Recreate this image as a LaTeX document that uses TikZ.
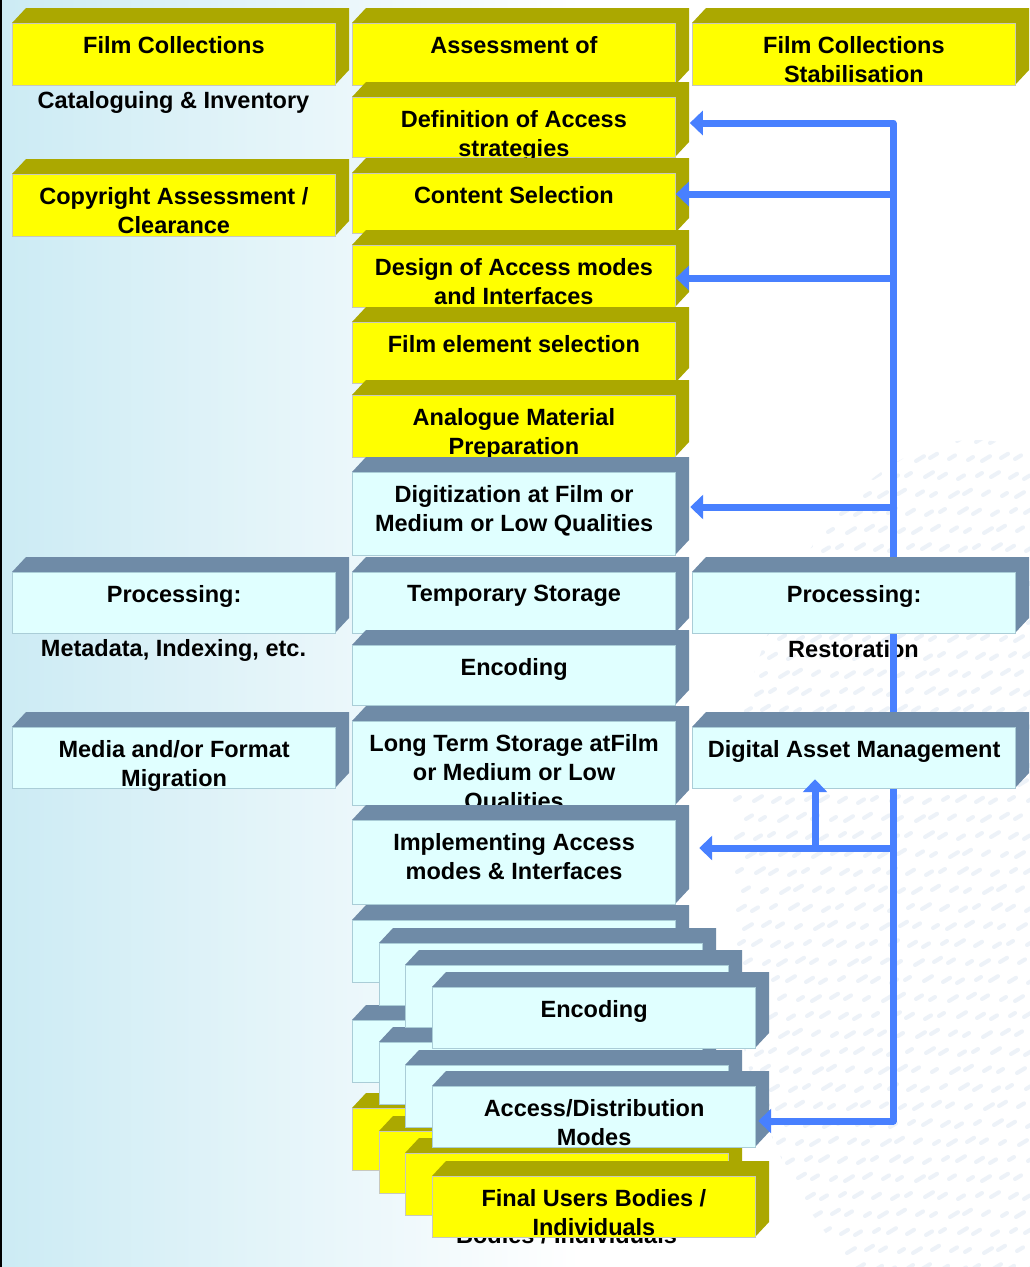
\documentclass[tikz,border=0pt]{standalone}
\usepackage{fontspec}
\setmainfont{Liberation Sans}
\usetikzlibrary{arrows.meta,calc}
\definecolor{yfront}{RGB}{255,255,0}
\definecolor{yside}{RGB}{171,168,0}
\definecolor{cfront}{RGB}{224,255,255}
\definecolor{cside}{RGB}{111,139,167}
\definecolor{bgblue}{RGB}{204,235,244}
\definecolor{blueline}{RGB}{72,128,255}
\definecolor{yborder}{RGB}{200,200,190}
\definecolor{cborder}{RGB}{170,205,215}
\definecolor{wmark}{RGB}{237,242,248}
\tikzset{
  Yside/.style={fill=yside},
  Cside/.style={fill=cside},
  Yfront/.style={fill=yfront, draw=yborder, line width=0.8pt, inner sep=0pt},
  Cfront/.style={fill=cfront, draw=cborder, line width=1.2pt, inner sep=0pt},
  txt/.style={font=\fontsize{23.5}{29}\selectfont\bfseries, align=center, inner sep=0pt},
  link/.style={draw=blueline, line width=7pt, line join=round},
  arr/.style={-{Triangle[length=13pt,width=24pt]}}
}
\newcommand\cube[6]{%
  \fill[#5side] (#2,#3) -- ++(14,-15) -- ({#2+337},{#3-15}) -- ({#2+337},{#3+#4-15}) -- ({#2+323},{#3+#4}) -- ({#2+323},#3) -- cycle;
  \node[#5front, anchor=north west, minimum width=323pt, minimum height=#4pt] (#1) at (#2,#3) {};
  \node[txt, anchor=north] (#1t) at ([yshift=-13pt]#1.north) {#6};
}
\begin{document}
\begin{tikzpicture}[x=1pt,y=-1pt]
\useasboundingbox (0,0) rectangle (1029,1267);
% background
\fill[white] (0,0) rectangle (1029,1267);
\shade[left color=bgblue, right color=white] (0,0) rectangle (580,1267);
\fill[black] (0,0) rectangle (1.5,1267);
\begin{scope}
  \clip (975,880) ellipse [x radius=250, y radius=440];
  \foreach \i in {0,...,17}{
    \foreach \j in {0,...,48}{
      \pgfmathsetmacro\px{735+\i*17+mod(\j,2)*8+mod(\i*7+\j*3,5)}
      \pgfmathsetmacro\py{440+\j*18+mod(\i*5+\j,4)}
      \pgfmathsetmacro\ln{5+mod(\i*3+\j*5,4)}
      \draw[wmark, line width=4pt, line cap=round] (\px,\py) -- ++(\ln,{-0.6*\ln});
    }
  }
\end{scope}

% column 1
\cube{FC}{12}{23}{62}{Y}{Film Collections}
\node[txt, anchor=north] (lcat) at (173.5,91.6) {Cataloguing \& Inventory};
\cube{CA}{12}{174}{62}{Y}{Copyright Assessment /\\Clearance}
\cube{PM}{12}{572}{61}{C}{Processing:}
\node[txt, anchor=north] (lmeta) at (173.5,639.6) {Metadata, Indexing, etc.};
\cube{MF}{12}{727}{61}{C}{Media and/or Format\\Migration}

% column 2
\cube{AO}{352}{23}{62}{Y}{Assessment of}
\cube{DA}{352}{97}{60}{Y}{Definition of Access\\strategies}
\cube{CS}{352}{173}{60}{Y}{Content Selection}
\cube{DM}{352}{245}{62}{Y}{Design of Access modes\\and Interfaces}
\cube{FE}{352}{322}{61}{Y}{Film element selection}
\cube{AM}{352}{395}{62}{Y}{Analogue Material\\Preparation}
\cube{DG}{352}{472}{83}{C}{Digitization at Film or\\Medium or Low Qualities}
\cube{TS}{352}{572}{61}{C}{Temporary Storage}
\cube{EN}{352}{645}{60}{C}{Encoding}
\cube{LT}{352}{721}{84}{C}{Long Term Storage atFilm\\or Medium or Low\\Qualities}
\cube{IA}{352}{820}{84}{C}{Implementing Access\\modes \& Interfaces}

% stacked copies
\cube{SA}{352}{920}{62}{C}{}
\cube{SE}{352}{1020}{62}{C}{}
\cube{SI}{352}{1108}{62}{Y}{}
\cube{SB}{379}{943}{62}{C}{}
\cube{SF}{379}{1042}{62}{C}{}
\cube{SJ}{379}{1131}{62}{Y}{}
\cube{SC}{405}{965}{62}{C}{}
\cube{SG}{405}{1065}{62}{C}{}
\cube{SK}{405}{1153}{62}{Y}{}
\node[txt, anchor=north] (ghost) at (566.5,1226) {Bodies / Individuals};
\cube{D}{432}{987}{61}{C}{Encoding}
\cube{H}{432}{1086}{61}{C}{Access/Distribution\\Modes}
\cube{L}{432}{1176}{61}{Y}{Final Users Bodies /\\Individuals}

% restoration label
\node[txt, anchor=north] (lrest) at (853.5,640) {Restoration};

% connectors
\coordinate (tTop) at (893,123);
\coordinate (tBot) at (893,1121);
\coordinate (j2) at (893,194);
\coordinate (j3) at (893,278);
\coordinate (j4) at (893,507);
\coordinate (j5) at (893,848);
\coordinate (j6) at (815,848);
\coordinate (eDA) at ([xshift=14pt]DA.east);
\coordinate (eDG) at ([xshift=14pt]DG.east);
\coordinate (eIA) at ([xshift=23pt]IA.east);
\coordinate (eH) at ([xshift=2pt]H.east);
\draw[link, {Triangle[length=13pt,width=24pt]}-{Triangle[length=13pt,width=24pt]}]
  (eDA |- tTop) -- (tTop) -- (tBot) -- (eH |- tBot);
\draw[link, arr] (j2) -- (CS.east |- j2);
\draw[link, arr] (j3) -- (DM.east |- j3);
\draw[link, arr] (j4) -- (eDG |- j4);
\draw[link, arr] (j5) -- (eIA |- j5);

% column 3
\cube{FS}{692}{23}{62}{Y}{Film Collections\\Stabilisation}
\cube{PR}{692}{572}{61}{C}{Processing:}
\cube{DAM}{692}{727}{61}{C}{Digital Asset Management}

\coordinate (eDAM) at ([yshift=10pt]DAM.south);
\draw[link, arr] (j6) -- (j6 |- eDAM);
\end{tikzpicture}
\end{document}
